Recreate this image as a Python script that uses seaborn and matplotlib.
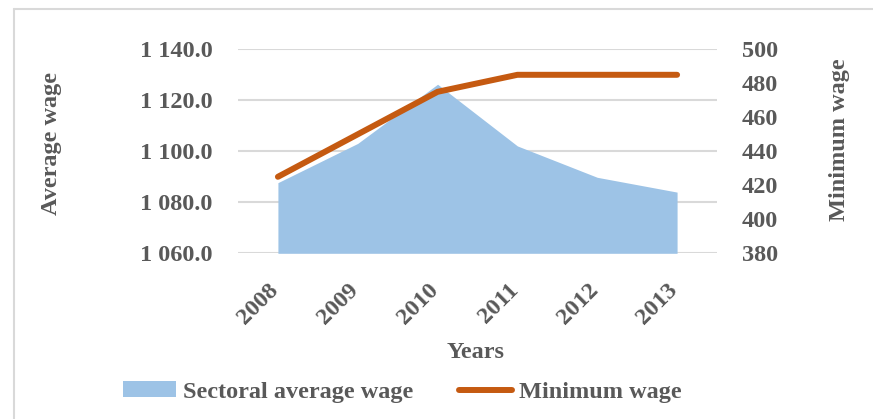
import matplotlib
matplotlib.use("Agg")
import matplotlib.pyplot as plt
import matplotlib.ticker as mticker
import matplotlib.transforms as mtransforms
from matplotlib.patches import Patch
from matplotlib.lines import Line2D
import seaborn as sns
import pandas as pd

# Wage data by year
years = ["2008", "2009", "2010", "2011", "2012", "2013"]
average_wage = [1087.7, 1103.1, 1126.3, 1102.1, 1089.8, 1084.0]
minimum_wage = [425, 450, 475, 485, 485, 485]

left_ticks = [1060, 1080, 1100, 1120, 1140]
right_ticks = [380, 400, 420, 440, 460, 480, 500]

sns.set_theme(style="white")
plt.rcParams["font.family"] = ["Liberation Serif", "DejaVu Serif"]
plt.rcParams["font.weight"] = "bold"

TEXT = "#595959"
GRID = "#d9d9d9"
AREA = "#9dc3e6"
LINE = "#c55a11"
FS = 17.5

df = pd.DataFrame({"year": years, "avg": average_wage, "min": minimum_wage})
df["pos"] = range(len(df))

fig = plt.figure(figsize=(8.73, 4.19), dpi=100)
ax = fig.add_axes([238 / 873, 1 - 253.3 / 419, (717 - 238) / 873, (253.3 - 49.3) / 419])

# Area series on the left axis
ax.fill_between(df["pos"], left_ticks[0], df["avg"], color=AREA, linewidth=0, zorder=2)
ax.set_xlim(-0.5, len(years) - 0.5)
ax.set_ylim(left_ticks[0], left_ticks[-1])
ax.set_yticks(left_ticks)
ax.yaxis.set_major_formatter(
    mticker.FuncFormatter(lambda v, _: f"{v:,.1f}".replace(",", " "))
)
ax.grid(axis="y", color=GRID, linewidth=1.5, zorder=0)
ax.set_axisbelow(True)
for s in ax.spines.values():
    s.set_visible(False)
ax.set_xticks(df["pos"])
ax.set_xticklabels(years, rotation=45, ha="right", rotation_mode="default")
ax.tick_params(axis="both", length=0, labelsize=FS, labelcolor=TEXT)
ax.tick_params(axis="y", pad=18.5)
ax.tick_params(axis="x", pad=19)
shift = mtransforms.ScaledTranslation(5 / 100, 0, fig.dpi_scale_trans)
for lab in ax.get_xticklabels():
    lab.set_transform(lab.get_transform() + shift)
for lab in ax.get_xticklabels() + ax.get_yticklabels():
    lab.set_fontweight("bold")
ax.set_xlabel("")
ax.set_ylabel("")

# Minimum wage line on the right axis
ax2 = ax.twinx()
sns.lineplot(data=df, x="pos", y="min", ax=ax2, color=LINE, linewidth=4.3,
             solid_capstyle="round", zorder=3)
ax2.set_ylim(right_ticks[0], right_ticks[-1])
ax2.set_yticks(right_ticks)
ax2.set_xlim(-0.5, len(years) - 0.5)
for s in ax2.spines.values():
    s.set_visible(False)
ax2.tick_params(axis="y", length=0, labelsize=FS, labelcolor=TEXT, pad=18)
for lab in ax2.get_yticklabels():
    lab.set_fontweight("bold")
ax2.set_xlabel("")
ax2.set_ylabel("")

# Axis titles
fig.text(52 / 873, 1 - 143.5 / 419, "Average wage", rotation=90, ha="center",
         va="center", fontsize=FS, color=TEXT, fontweight="bold")
fig.text(840 / 873, 1 - 140 / 419, "Minimum wage", rotation=90, ha="center",
         va="center", fontsize=FS, color=TEXT, fontweight="bold")
fig.text(476 / 873, 1 - 353 / 419, "Years", ha="center", va="center",
         fontsize=FS, color=TEXT, fontweight="bold")

# Legend
handles = [Patch(facecolor=AREA, edgecolor="none", label="Sectoral average wage"),
           Line2D([0], [0], color=LINE, linewidth=4.3, solid_capstyle="round",
                  label="Minimum wage")]
leg = fig.legend(handles=handles, loc="center left",
                 bbox_to_anchor=(123 / 873, 1 - 392 / 419),
                 ncol=2, frameon=False, fontsize=FS, handlelength=2.2,
                 handleheight=0.65, handletextpad=0.25, columnspacing=1.9,
                 borderpad=0, borderaxespad=0)
for t in leg.get_texts():
    t.set_color(TEXT)
    t.set_fontweight("bold")

# Chart frame (top and left edges are visible)
fig.add_artist(Line2D([14 / 873, 14 / 873], [0, 1 - 9 / 419], color=GRID,
                      linewidth=1.5, transform=fig.transFigure))
fig.add_artist(Line2D([14 / 873, 1], [1 - 9 / 419, 1 - 9 / 419], color=GRID,
                      linewidth=1.5, transform=fig.transFigure))

fig.savefig("out.png", dpi=100)
